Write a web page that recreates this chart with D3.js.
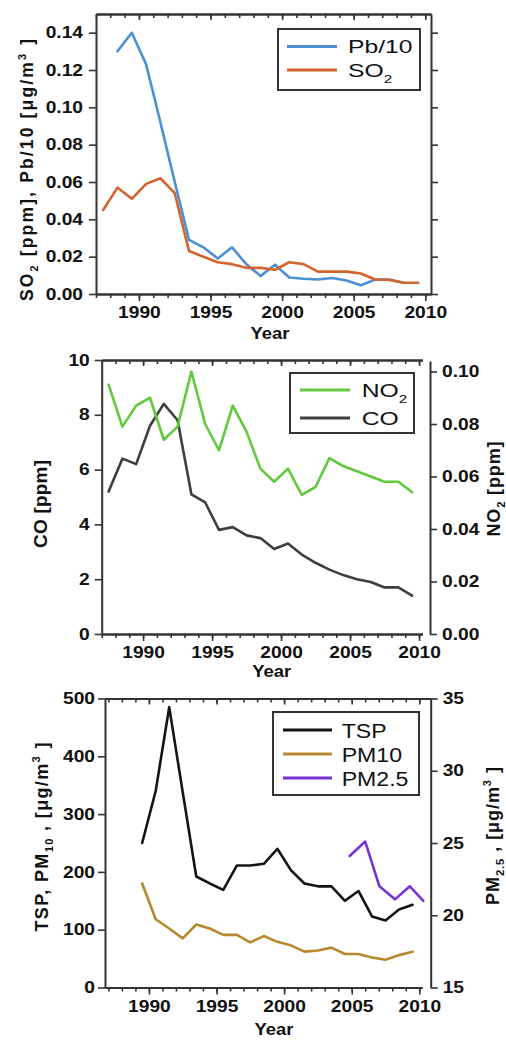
<!DOCTYPE html>
<html>
<head>
<meta charset="utf-8">
<script src="https://cdn.jsdelivr.net/npm/d3@7"></script>
<style>
  html, body { margin: 0; padding: 0; background: #fff; }
  svg { display: block; }
</style>
</head>
<body>
<svg id="fig" width="506" height="1040"></svg>
<script>
// ---- Data: annual means, drawn at mid-year ----
const so2Years = [1987, 1988, 1989, 1990, 1991, 1992, 1993, 1994, 1995, 1996, 1997, 1998,
                  1999, 2000, 2001, 2002, 2003, 2004, 2005, 2006, 2007, 2008, 2009];
const so2 = [0.045, 0.057, 0.051, 0.059, 0.062, 0.054, 0.023, 0.020, 0.017, 0.016, 0.014, 0.014,
             0.013, 0.017, 0.016, 0.012, 0.012, 0.012, 0.011, 0.0078, 0.0075, 0.006, 0.006];

const pbYears = [1988, 1989, 1990, 1991, 1992, 1993, 1994, 1995, 1996, 1997, 1998,
                 1999, 2000, 2001, 2002, 2003, 2004, 2005, 2006, 2007, 2008];
const pb10 = [0.130, 0.140, 0.123, 0.092, 0.060, 0.029, 0.025, 0.019, 0.025, 0.016, 0.0096,
              0.0157, 0.0088, 0.0082, 0.0078, 0.0086, 0.0072, 0.0047, 0.0077, 0.0077, 0.006];

const coYears = [1987, 1988, 1989, 1990, 1991, 1992, 1993, 1994, 1995, 1996, 1997, 1998,
                 1999, 2000, 2001, 2002, 2003, 2004, 2005, 2006, 2007, 2008, 2009];
const co = [5.2, 6.4, 6.2, 7.6, 8.4, 7.8, 5.1, 4.8, 3.8, 3.9, 3.6, 3.5,
            3.1, 3.3, 2.9, 2.6, 2.35, 2.15, 2.0, 1.9, 1.7, 1.7, 1.4];
const no2 = [0.095, 0.079, 0.087, 0.090, 0.074, 0.079, 0.100, 0.080, 0.070, 0.087, 0.077, 0.063,
             0.058, 0.063, 0.053, 0.056, 0.067, 0.064, 0.062, 0.060, 0.058, 0.058, 0.054];

const tspYears = [1989, 1990, 1991, 1992, 1993, 1994, 1995, 1996, 1997, 1998, 1999,
                  2000, 2001, 2002, 2003, 2004, 2005, 2006, 2007, 2008, 2009];
const tsp = [250, 340, 485, 338, 192, 180, 169, 211, 211, 214, 240,
             203, 180, 175, 175, 150, 167, 123, 116, 135, 143];
const pm10 = [180, 118, 102, 85, 109, 102, 91, 91, 78, 89, 79,
              73, 62, 64, 69, 58, 58, 52, 48, 56, 62];

// PM2.5 series has its own time stamps (decimal years)
const pm25Time = [2004.85, 2006.0, 2007.05, 2008.2, 2009.3, 2010.3];
const pm25 = [24.1, 25.1, 22.0, 21.1, 22.0, 21.0];

// ---- Tick values ----
const yearTicks = [1990, 1995, 2000, 2005, 2010];
const yearMinor = d3.range(1987, 2011);
const so2Ticks = [0, 0.02, 0.04, 0.06, 0.08, 0.10, 0.12, 0.14];
const coTicks = [0, 2, 4, 6, 8, 10];
const no2Ticks = [0, 0.02, 0.04, 0.06, 0.08, 0.10];
const tspTicks = [0, 100, 200, 300, 400, 500];
const pm25Ticks = [15, 20, 25, 30, 35];

// ---- Styling ----
const FONT = "'Liberation Sans', Arial, Helvetica, sans-serif";
const AXIS = "#333";
const TK = 1.2;           // horizontal widening of tick labels
const C = {
  pb: "#4b8fd6", so2: "#d3642c",
  no2: "#63c93c", co: "#3e3e3e",
  tsp: "#141414", pm10: "#b7892f", pm25: "#7633d8"
};

const svg = d3.select("#fig");

function styleAxis(g, labels) {
  g.attr("font-family", FONT).attr("font-size", 16).attr("font-weight", "bold");
  g.select(".domain").attr("stroke", AXIS).attr("stroke-width", 2);
  g.selectAll(".tick line").attr("stroke", AXIS).attr("stroke-width", 1.6);
  g.selectAll("text").attr("fill", "#111");
  if (!labels) g.selectAll("text").remove();
  return g;
}

// bottom axis: yearly minor ticks + labelled 5-year ticks
function bottomAxis(x, y) {
  styleAxis(svg.append("g").attr("transform", `translate(0,${y})`)
    .call(d3.axisBottom(x).tickValues(yearMinor).tickSize(4).tickSizeOuter(0)), false);
  const g = styleAxis(svg.append("g").attr("transform", `translate(0,${y})`)
    .call(d3.axisBottom(x).tickValues(yearTicks).tickSize(7).tickPadding(6)
      .tickSizeOuter(0).tickFormat(d3.format("d"))), true);
  g.selectAll("text").attr("transform", `scale(${TK},1)`);
}

// top border with inward ticks
function topAxis(x, y) {
  styleAxis(svg.append("g").attr("transform", `translate(0,${y})`)
    .call(d3.axisTop(x).tickValues(yearMinor.filter(v => v >= x.domain()[0] && v <= x.domain()[1]))
      .tickSize(-4).tickSizeOuter(0)), false);
  styleAxis(svg.append("g").attr("transform", `translate(0,${y})`)
    .call(d3.axisTop(x).tickValues(yearTicks).tickSize(-6).tickSizeOuter(0)), false);
}

function leftAxis(yScale, x, ticks, fmt, gap) {
  const g = styleAxis(svg.append("g").attr("transform", `translate(${x},0)`)
    .call(d3.axisLeft(yScale).tickValues(ticks).tickSize(7).tickSizeOuter(0).tickFormat(fmt)), !!fmt);
  g.selectAll("text").attr("x", -gap / TK).attr("transform", `scale(${TK},1)`);
}

function rightAxis(yScale, x, ticks, fmt, gap) {
  const g = styleAxis(svg.append("g").attr("transform", `translate(${x},0)`)
    .call(d3.axisRight(yScale).tickValues(ticks).tickSize(7).tickSizeOuter(0).tickFormat(fmt)), !!fmt);
  g.selectAll("text").attr("x", gap / TK).attr("transform", `scale(${TK},1)`);
}

// text with sub/superscript parts: ["SO", ["2","sub"]]
function rich(t, parts, size) {
  let shift = 0;
  parts.forEach(p => {
    const [s, kind] = Array.isArray(p) ? p : [p, null];
    const target = kind === "sub" ? size * 0.3 : kind === "sup" ? -size * 0.42 : 0;
    const ts = t.append("tspan").text(s).attr("dy", target - shift);
    if (kind) ts.attr("font-size", size * 0.62);
    shift = target;
  });
}

function yTitle(parts, cx, cy, len, size) {
  const t = svg.append("text")
    .attr("transform", `translate(${cx},${cy}) rotate(-90)`)
    .attr("text-anchor", "middle")
    .attr("font-family", FONT).attr("font-size", size).attr("font-weight", "bold")
    .attr("fill", "#111")
    .attr("textLength", len).attr("lengthAdjust", "spacing");
  rich(t, parts, size);
}

function xTitle(cx, y) {
  svg.append("text").attr("transform", `translate(${cx},${y}) scale(1.15,1)`)
    .attr("text-anchor", "middle").attr("font-family", FONT)
    .attr("font-size", 16).attr("font-weight", "bold").attr("fill", "#111")
    .text("Year");
}

function legend(box, items, size, k, lineX0, lineX1, textX, row0, rowGap) {
  svg.append("rect").attr("x", box[0]).attr("y", box[1]).attr("width", box[2]).attr("height", box[3])
    .attr("fill", "#fff").attr("stroke", AXIS).attr("stroke-width", 2);
  items.forEach((it, i) => {
    const ly = box[1] + row0 + rowGap * i;
    svg.append("line").attr("x1", lineX0).attr("x2", lineX1).attr("y1", ly).attr("y2", ly)
      .attr("stroke", it.color).attr("stroke-width", 2.8);
    const t = svg.append("text")
      .attr("transform", `translate(${textX},${ly + size * 0.36}) scale(${k},1)`)
      .attr("font-family", FONT).attr("font-size", size).attr("fill", "#111");
    rich(t, it.label, size);
  });
}

function series(x, y, times, values, color, offset) {
  const pts = d3.zip(times, values);
  svg.append("path").datum(pts)
    .attr("fill", "none").attr("stroke", color).attr("stroke-width", 2.6)
    .attr("stroke-linejoin", "round").attr("stroke-linecap", "round")
    .attr("d", d3.line().x(d => x(d[0] + offset)).y(d => y(d[1])));
}

// ================= Panel 1: SO2 and Pb/10 =================
{
  const x = d3.scaleLinear().domain([1987, 2010.4]).range([96, 431]);
  const y = d3.scaleLinear().domain([0, 0.15]).range([294, 14]);
  series(x, y, pbYears, pb10, C.pb, 0.5);
  series(x, y, so2Years, so2, C.so2, 0.5);
  topAxis(x, 14);
  bottomAxis(x, 294);
  leftAxis(y, 96, so2Ticks, d3.format(".2f"), 13);
  rightAxis(y, 431, so2Ticks, null, 0);
  legend([278, 29, 142, 61], [
    { label: ["Pb/10"], color: C.pb },
    { label: ["SO", ["2", "sub"]], color: C.so2 }
  ], 19, 1.3, 287, 337, 348, 17.5, 23.5);
  yTitle(["SO", ["2", "sub"], "  [ppm], Pb/10 [\u03bcg/m", ["3", "sup"], " ]"], 33, 170, 262, 17.5);
  xTitle(270, 339);
}

// ================= Panel 2: CO and NO2 =================
{
  const x = d3.scaleLinear().domain([1987, 2010.25]).range([101.7, 422.5]);
  const yL = d3.scaleLinear().domain([0, 10]).range([634, 360]);
  const yR = d3.scaleLinear().domain([0, 0.104]).range([634, 361]);
  series(x, yL, coYears, co, C.co, 0.5);
  series(x, yR, coYears, no2, C.no2, 0.5);
  topAxis(x, 360);
  bottomAxis(x, 634);
  leftAxis(yL, 101.7, coTicks, d3.format("d"), 12);
  rightAxis(yR, 430, no2Ticks, d3.format(".2f"), 12);
  legend([290, 373, 124, 60], [
    { label: ["NO", ["2", "sub"]], color: C.no2 },
    { label: ["CO"], color: C.co }
  ], 19, 1.3, 300, 350, 361.7, 17, 28);
  yTitle(["CO [ppm]"], 47, 504, 88, 19);
  yTitle(["NO", ["2", "sub"], " [ppm]"], 500, 489, 95, 18);
  xTitle(271.7, 677);
}

// ================= Panel 3: TSP, PM10 and PM2.5 =================
{
  const x = d3.scaleLinear().domain([1986.75, 2010.2]).range([105, 422]);
  const xTop = x.copy().domain([1986.75, x.invert(430.7)]).range([105, 430.7]);
  const yL = d3.scaleLinear().domain([0, 500]).range([987.5, 698.5]);
  const yR = d3.scaleLinear().domain([15, 35]).range([987.5, 698.5]);
  series(x, yL, tspYears, tsp, C.tsp, 0.5);
  series(x, yL, tspYears, pm10, C.pm10, 0.5);
  series(x, yR, pm25Time, pm25, C.pm25, 0);
  topAxis(xTop, 698.5);
  bottomAxis(x, 987.5);
  leftAxis(yL, 105, tspTicks, d3.format("d"), 10);
  rightAxis(yR, 430.7, pm25Ticks, d3.format("d"), 12);
  legend([273, 712, 146, 83], [
    { label: ["TSP"], color: C.tsp },
    { label: ["PM10"], color: C.pm10 },
    { label: ["PM2.5"], color: C.pm25 }
  ], 21, 1.1, 283, 332, 341.7, 18, 24);
  yTitle(["TSP, PM", ["10", "sub"], " , [\u03bcg/m", ["3", "sup"], " ]"], 48, 837, 189, 18);
  yTitle(["PM", ["2.5", "sub"], " , [\u03bcg/m", ["3", "sup"], " ]"], 499, 836, 138, 18);
  xTitle(274, 1035);
}
</script>
</body>
</html>
